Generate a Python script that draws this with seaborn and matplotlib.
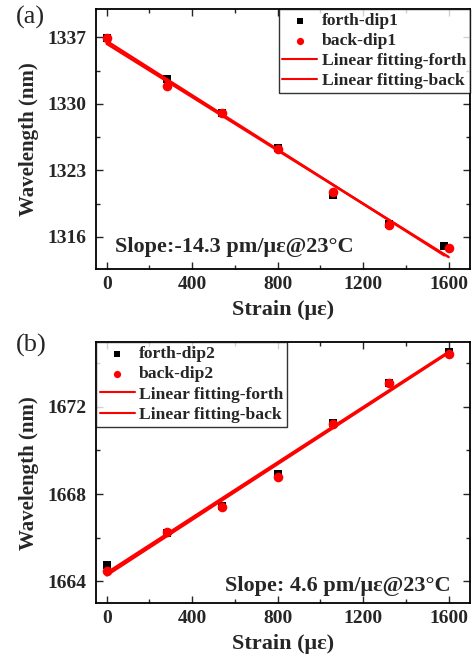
import numpy as np
import pandas as pd
import matplotlib
matplotlib.use("Agg")
import matplotlib.pyplot as plt
import seaborn as sns
from matplotlib.ticker import MultipleLocator

sns.set_style("ticks")
plt.rcParams['font.family'] = ['Liberation Serif', 'DejaVu Serif']

# ---- data (a) ----
strain_a_forth = [0, 280, 540, 800, 1060, 1320, 1580]
wl_a_forth = [1336.9, 1332.6, 1329.0, 1325.4, 1320.4, 1317.3, 1315.0]
strain_a_back = [0, 280, 540, 800, 1060, 1320, 1600]
wl_a_back = [1336.9, 1331.9, 1329.0, 1325.2, 1320.7, 1317.2, 1314.8]

# ---- data (b) ----
strain_b_forth = [0, 280, 540, 800, 1060, 1320, 1600]
wl_b_forth = [1664.75, 1666.2, 1667.47, 1668.92, 1671.24, 1673.07, 1674.52]
strain_b_back = [0, 280, 540, 800, 1060, 1320, 1600]
wl_b_back = [1664.49, 1666.27, 1667.39, 1668.79, 1671.21, 1673.07, 1674.40]

xticks = [0, 400, 800, 1200, 1600]
yticks_a = [1316, 1323, 1330, 1337]
yticks_b = [1664, 1668, 1672]

fig = plt.figure(figsize=(4.74, 6.61), dpi=100)
ax_a = fig.add_axes([96/474, 1-269/661, 374/474, 260/661])
ax_b = fig.add_axes([96/474, 1-603.3/661, 374/474, 261/661])


def panel(ax, xf, yf, xb, yb, tag, ylim, yticks, yminor, legloc, slope_text, slope_pos, ha):
    df_f = pd.DataFrame({'x': xf, 'y': yf})
    df_b = pd.DataFrame({'x': xb, 'y': yb})
    sns.scatterplot(data=df_f, x='x', y='y', ax=ax, marker='s', s=36, color='black',
                    edgecolor='black', linewidth=0, label=f'forth-{tag}', zorder=3)
    sns.scatterplot(data=df_b, x='x', y='y', ax=ax, marker='o', s=48, color='#ff0000',
                    edgecolor='#ff0000', linewidth=0, label=f'back-{tag}', zorder=4)
    pf = np.polyfit(xf, yf, 1)
    pb = np.polyfit(xb, yb, 1)
    xs_f = np.array([min(xf), max(xf)])
    xs_b = np.array([min(xb), max(xb)])
    sns.lineplot(x=xs_f, y=np.polyval(pf, xs_f), ax=ax, color='#ff0000', lw=1.8,
                 label='Linear fitting-forth', zorder=5)
    sns.lineplot(x=xs_b, y=np.polyval(pb, xs_b), ax=ax, color='#ff0000', lw=1.8,
                 label='Linear fitting-back', zorder=5)
    ax.set_xlim(-50, 1700)
    ax.set_ylim(*ylim)
    ax.set_xticks(xticks)
    ax.set_yticks(yticks)
    ax.xaxis.set_minor_locator(MultipleLocator(200))
    ax.yaxis.set_minor_locator(MultipleLocator(yminor))
    ax.tick_params(which='both', direction='in', top=True, right=True, width=1.0)
    ax.tick_params(which='major', length=5, labelsize=14)
    ax.tick_params(axis='y', which='major', pad=7)
    ax.tick_params(axis='x', which='major', pad=5)
    ax.tick_params(which='minor', length=3)
    for lab in ax.get_xticklabels() + ax.get_yticklabels():
        lab.set_fontweight('bold')
    for sp in ax.spines.values():
        sp.set_linewidth(1.3)
        sp.set_color('black')
    ax.set_xlabel('Strain (με)', fontsize=16, fontweight='bold', labelpad=5)
    ax.set_ylabel('Wavelength (nm)', fontsize=15, fontweight='bold')
    ax.yaxis.set_label_coords(-57/374, 0.5)
    leg = ax.legend(loc=legloc, frameon=True, fancybox=False, edgecolor='black',
                    prop={'weight': 'bold', 'size': 12.6}, handlelength=2.0,
                    handletextpad=0.25, borderpad=0.22, labelspacing=0.22,
                    borderaxespad=0, markerscale=0.75)
    leg.get_frame().set_linewidth(1.0)
    for h in leg.get_lines():
        h.set_linewidth(1.5)
    ax.text(slope_pos[0], slope_pos[1], slope_text, transform=ax.transAxes,
            fontsize=16, fontweight='bold', ha=ha, va='center')


panel(ax_a, strain_a_forth, wl_a_forth, strain_a_back, wl_a_back, 'dip1',
      (1312.6, 1340.0), yticks_a, 3.5, 'upper right',
      'Slope:-14.3 pm/με@23°C', (0.05, 0.085), 'left')
panel(ax_b, strain_b_forth, wl_b_forth, strain_b_back, wl_b_back, 'dip2',
      (1663.0, 1674.95), yticks_b, 2, 'upper left',
      'Slope: 4.6 pm/με@23°C', (0.947, 0.066), 'right')

fig.text(16/474, 1-17/661, '(a)', fontsize=19, va='center', ha='left')
fig.text(16/474, 1-345/661, '(b)', fontsize=19, va='center', ha='left')

fig.savefig('out.png', dpi=100)
